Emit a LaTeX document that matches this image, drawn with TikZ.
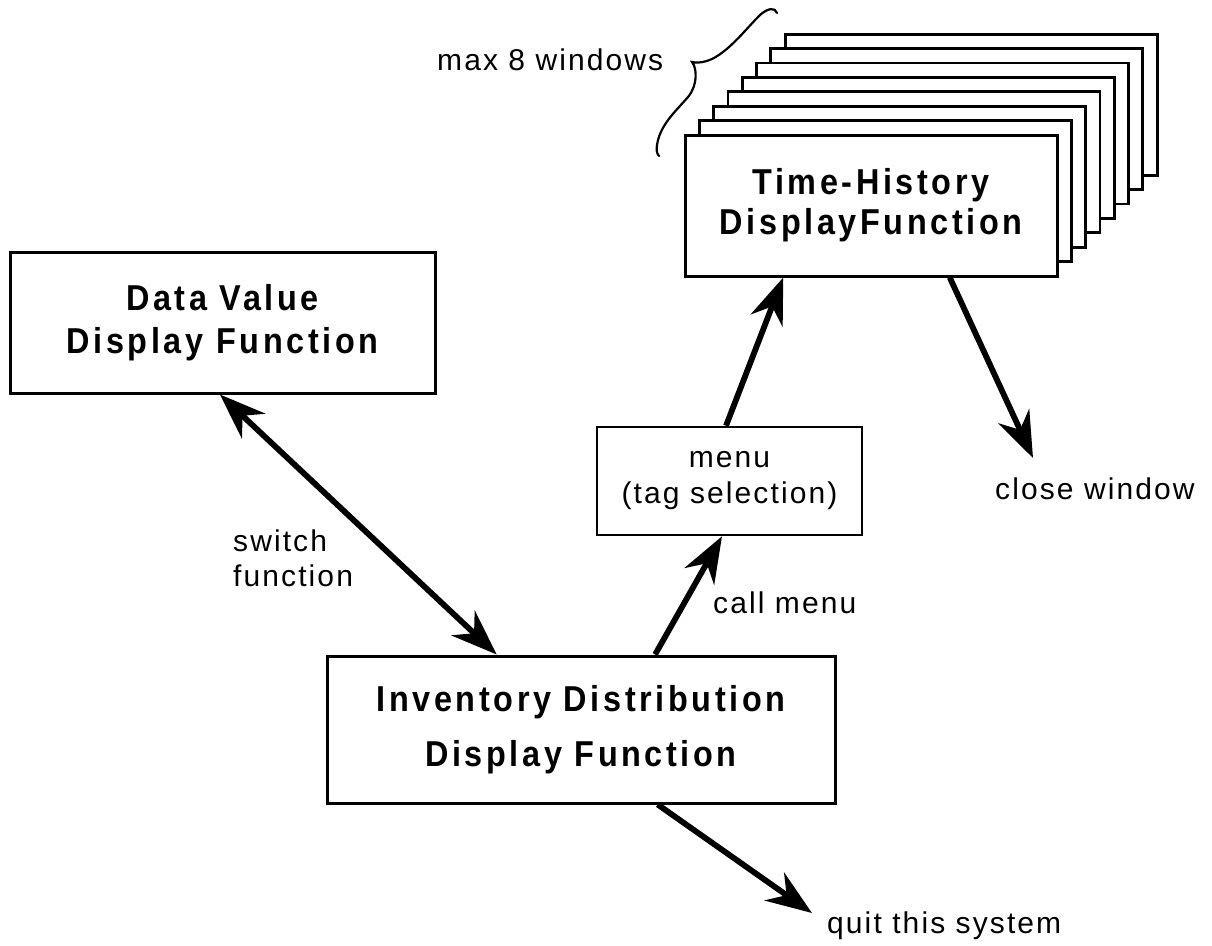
\documentclass[tikz,border=0pt]{standalone}
\usepackage{fontspec}
\setmainfont{Liberation Sans}[LetterSpace=7]
\newfontfamily\boxfont{Liberation Sans}[FakeStretch=0.9,LetterSpace=10]
\usetikzlibrary{arrows.meta,calc}

\tikzset{
  fnbox/.style={draw, line width=3pt, fill=white, inner sep=0pt,
    align=center, font=\boxfont\bfseries\fontsize{36}{#1}\selectfont},
  menubox/.style={draw, line width=2.6pt, fill=white, inner sep=0pt,
    align=center, font=\fontsize{30}{36}\selectfont},
  winlayer/.style={draw, line width=2.8pt, fill=white},
  lbl/.style={inner sep=0pt, font=\fontsize{30}{35}\selectfont},
  flow/.style={line width=5.8pt, -{Stealth[length=46pt,width=34pt,inset=15pt]}},
  dflow/.style={line width=5.8pt, {Stealth[length=46pt,width=34pt,inset=15pt]}-{Stealth[length=46pt,width=34pt,inset=15pt]}}
}

\begin{document}
\begin{tikzpicture}[x=1pt,y=-1pt]
\useasboundingbox (0,0) rectangle (1212,945);

% stack of time-history windows, back to front
\foreach \i in {7,6,...,1}{
  \draw[winlayer] (685+14.3*\i,135-14.4*\i) rectangle (1057+14.3*\i,276-14.4*\i);
}
\node[fnbox=40, minimum width=372pt, minimum height=141pt] (th) at (871,205.5)
  {Time-History\\DisplayFunction};

\node[fnbox=43, minimum width=425pt, minimum height=141pt] (dv) at (222.5,322.5)
  {Data Value\\Display Function};

\node[fnbox=55, minimum width=508pt, minimum height=147pt] (inv) at (581,729.5)
  {Inventory Distribution\\Display Function};

\node[menubox, minimum width=265pt, minimum height=108pt] (menu) at (729.5,481)
  {menu\\(tag selection)};

% labels
\node[lbl, anchor=north west, align=left] (sw) at (233,530) {switch\\function};
\node[lbl, anchor=base west] (cm) at (713,613) {call menu};
\node[lbl, anchor=north west] (cw) at (995,478) {close window};
\node[lbl, anchor=north west] (qs) at (827,912) {quit this system};
\node[lbl, anchor=base west] (mx) at (437,70) {max 8 windows};

% free ends of the exit arrows
\coordinate (cwend) at (1033,458);
\coordinate (qsend) at (812,913);

% connectors
\draw[dflow] ($(dv.south west)!0.494!(dv.south east)$) -- ($(inv.north west)!0.335!(inv.north east)$);
\draw[flow] ($(inv.north west)!0.645!(inv.north east)$) -- ($(menu.south west)!0.472!(menu.south east)$);
\draw[flow] ($(menu.north west)!0.487!(menu.north east)$) -- ($(th.south west)!0.266!(th.south east)$);
\draw[flow] ($(th.south west)!0.710!(th.south east)$) -- (cwend);
\draw[flow] ($(inv.south west)!0.65!(inv.south east)$) -- (qsend);

% hand-drawn brace grouping the windows
\draw[line width=2.2pt, line cap=round]
  (777,13) .. controls (775,7) and (768,8) .. (760,15)
  .. controls (745,30) and (730,50) .. (712,59)
  .. controls (703,63) and (696,63) .. (692,62)
  .. controls (697,68) and (698,85) .. (688,97)
  .. controls (675,112) and (660,125) .. (657,145)
  .. controls (656,150) and (657,154) .. (659,156);
\end{tikzpicture}
\end{document}
